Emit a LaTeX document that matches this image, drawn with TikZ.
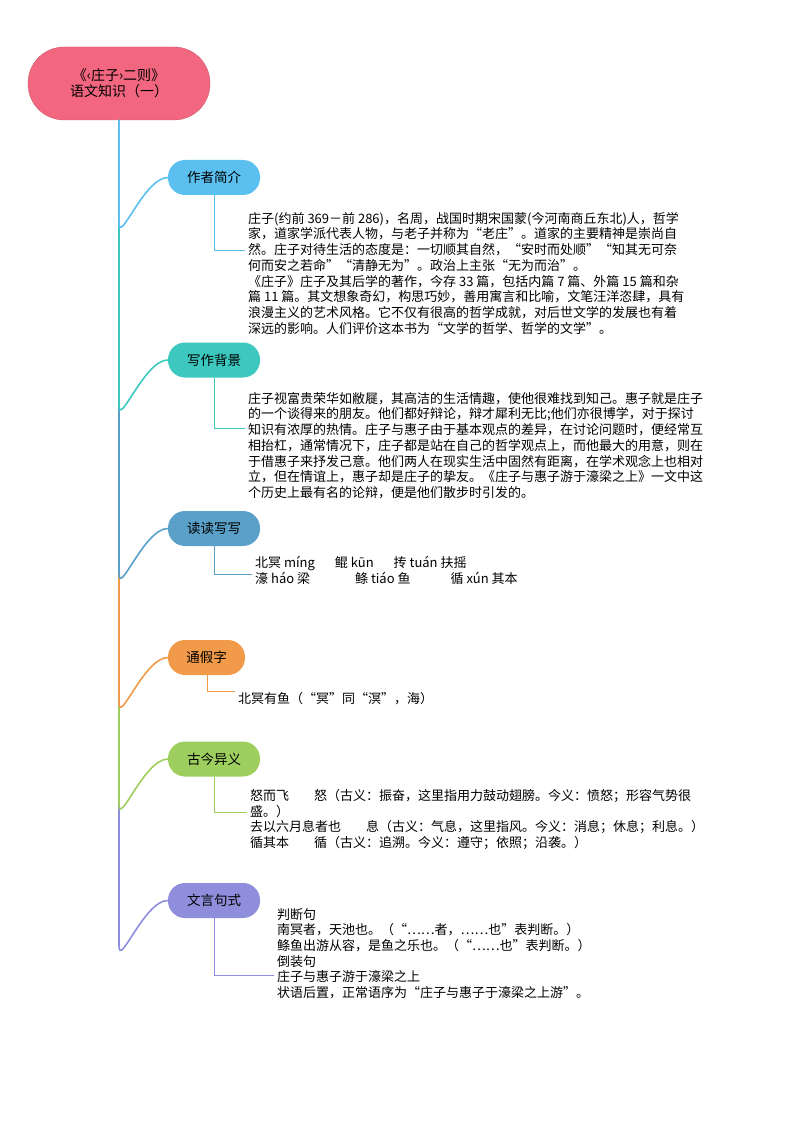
\documentclass[tikz,border=0pt]{standalone}
\usepackage{fontspec}
\setmainfont{Noto Sans CJK SC}
\begin{document}
\begin{tikzpicture}[x=1pt,y=-1pt,
  br/.style={rounded corners=17pt,minimum height=35pt,font=\fontsize{13.5}{15}\selectfont,inner sep=0pt},
  txt/.style={anchor=north west,align=left,inner sep=0pt,font=\fontsize{13}{15.7}\selectfont},
  lk/.style={line width=0.7pt}]
\useasboundingbox (0,0) rectangle (794,1123);
\definecolor{cr}{HTML}{F2677F}\definecolor{c1}{HTML}{5BC0F0}\definecolor{c2}{HTML}{3CC8BE}
\definecolor{c3}{HTML}{5AA0C8}\definecolor{c4}{HTML}{F09A4A}\definecolor{c5}{HTML}{9ECF5E}\definecolor{c6}{HTML}{8E8EDC}
\node[fill=cr,draw=cr!80!black,line width=0.3pt,rounded corners=36pt,minimum width=182pt,minimum height=73pt,align=center,font=\fontsize{14}{16}\selectfont] (root) at (119,83.5) {《‹庄子›二则》\\语文知识（一）};
\node[br,fill=c1,minimum width=92pt] (b1) at (214,177.5) {作者简介};
\node[br,fill=c2,minimum width=92pt] (b2) at (214,360) {写作背景};
\node[br,fill=c3,minimum width=92pt] (b3) at (214,528.5) {读读写写};
\node[br,fill=c4,minimum width=77pt] (b4) at (206.5,657.5) {通假字};
\node[br,fill=c5,minimum width=92pt] (b5) at (214,759) {古今异义};
\node[br,fill=c6,minimum width=92pt] (b6) at (214,900.5) {文言句式};
\coordinate (r0) at (119,120);
\foreach \b/\c in {b6/c6,b5/c5,b4/c4,b3/c3,b2/c2,b1/c1}{
  \draw[\c,line width=1.6pt] (r0) -- ([yshift=-45pt]119,0|-\b.west) to[out=-90,in=180,looseness=0.9] (\b.west);
}
\node[txt] (t1) at (248,212) {庄子(约前 369－前 286)，名周，战国时期宋国蒙(今河南商丘东北)人，哲学\\家，道家学派代表人物，与老子并称为“老庄”。道家的主要精神是崇尚自\\然。庄子对待生活的态度是：一切顺其自然，“安时而处顺”“知其无可奈\\何而安之若命”“清静无为”。政治上主张“无为而治”。\\《庄子》庄子及其后学的著作，今存 33 篇，包括内篇 7 篇、外篇 15 篇和杂\\篇 11 篇。其文想象奇幻，构思巧妙，善用寓言和比喻，文笔汪洋恣肆，具有\\浪漫主义的艺术风格。它不仅有很高的哲学成就，对后世文学的发展也有着\\深远的影响。人们评价这本书为“文学的哲学、哲学的文学”。};
\node[txt] (t2) at (248,392) {庄子视富贵荣华如敝屣，其高洁的生活情趣，使他很难找到知己。惠子就是庄子\\的一个谈得来的朋友。他们都好辩论，辩才犀利无比;他们亦很博学，对于探讨\\知识有浓厚的热情。庄子与惠子由于基本观点的差异，在讨论问题时，便经常互\\相抬杠，通常情况下，庄子都是站在自己的哲学观点上，而他最大的用意，则在\\于借惠子来抒发己意。他们两人在现实生活中固然有距离，在学术观念上也相对\\立，但在情谊上，惠子却是庄子的挚友。《庄子与惠子游于濠梁之上》一文中这\\个历史上最有名的论辩，便是他们散步时引发的。};
\node[txt,font=\fontsize{13}{16}\selectfont] (t3) at (255,556) {北冥 míng\hspace{20pt}鲲 kūn\hspace{20pt}抟 tuán 扶摇\\濠 háo 梁\hspace{45pt}鲦 tiáo 鱼\hspace{40pt}循 xún 其本};
\node[txt] (t4) at (238,692) {北冥有鱼（“冥”同“溟”，海）};
\node[txt] (t5) at (250,789) {怒而飞\hspace{25pt}怒（古义：振奋，这里指用力鼓动翅膀。今义：愤怒；形容气势很\\盛。）\\去以六月息者也\hspace{25pt}息（古义：气息，这里指风。今义：消息；休息；利息。）\\循其本\hspace{25pt}循（古义：追溯。今义：遵守；依照；沿袭。）};
\node[txt] (t6) at (277,908) {判断句\\南冥者，天池也。（“……者，……也”表判断。）\\鲦鱼出游从容，是鱼之乐也。（“……也”表判断。）\\倒装句\\庄子与惠子游于濠梁之上\\状语后置，正常语序为“庄子与惠子于濠梁之上游”。};
\draw[c1,lk] (b1.south) -- (214,250) -- (245,250);
\draw[c2,lk] (b2.south) -- (214,428) -- (245,428);
\draw[c3,lk] (b3.south) -- (214,574) -- (252,574);
\draw[c4,lk] (207,675) -- (207,691) -- (235,691);
\draw[c5,lk] (b5.south) -- (214,812) -- (247,812);
\draw[c6,lk] (b6.south) -- (214,975) -- (274,975);
\end{tikzpicture}
\end{document}
